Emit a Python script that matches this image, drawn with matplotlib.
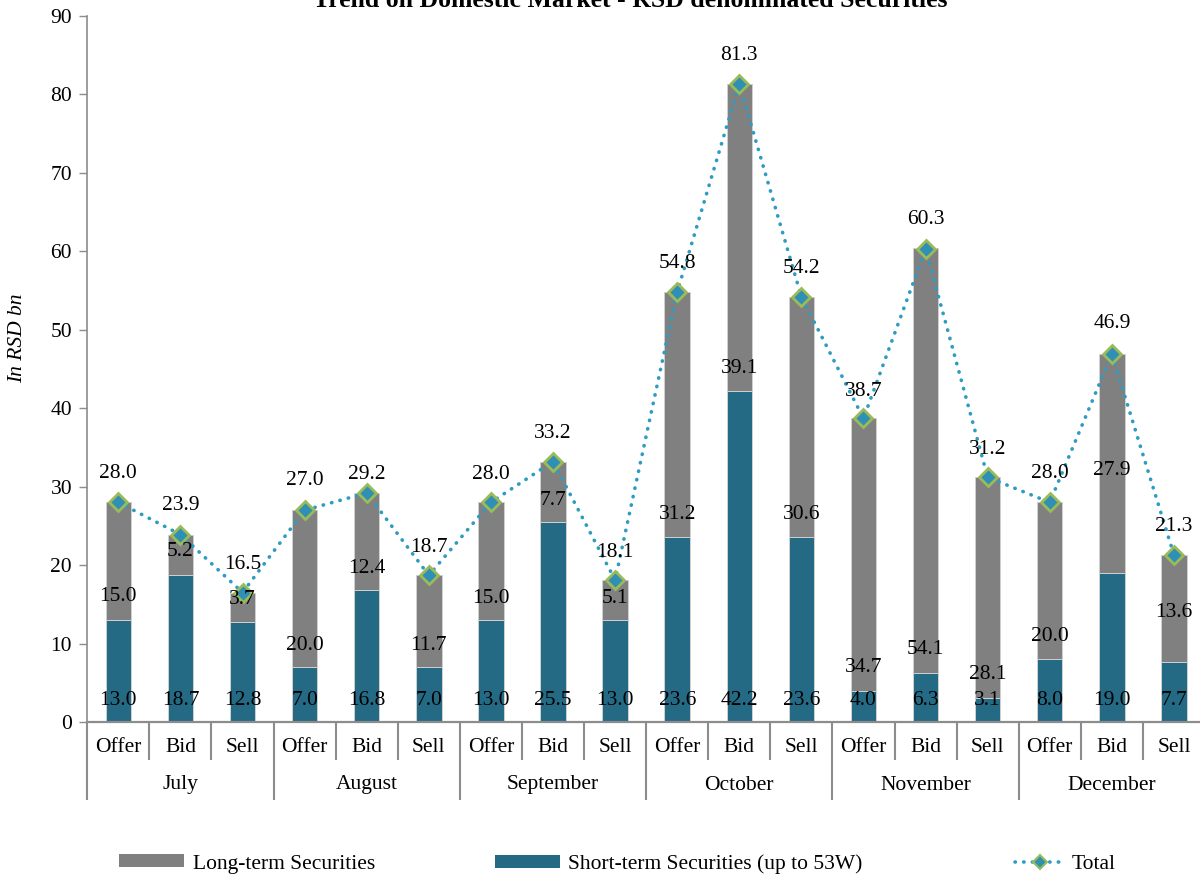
import matplotlib
matplotlib.use("Agg")
import matplotlib.pyplot as plt
from matplotlib.patches import Patch
from matplotlib.lines import Line2D
import numpy as np

plt.rcParams['font.family'] = ['Liberation Serif', 'DejaVu Serif']

# ---- data ----
months = ["July", "August", "September", "October", "November", "December"]
kinds = ["Offer", "Bid", "Sell"]
short_term = [13.0, 18.7, 12.8, 7.0, 16.8, 7.0, 13.0, 25.5, 13.0,
              23.6, 42.2, 23.6, 4.0, 6.3, 3.1, 8.0, 19.0, 7.7]
long_term = [15.0, 5.2, 3.7, 20.0, 12.4, 11.7, 15.0, 7.7, 5.1,
             31.2, 39.1, 30.6, 34.7, 54.1, 28.1, 20.0, 27.9, 13.6]
total = [28.0, 23.9, 16.5, 27.0, 29.2, 18.7, 28.0, 33.2, 18.1,
         54.8, 81.3, 54.2, 38.7, 60.3, 31.2, 28.0, 46.9, 21.3]

# ---- label layout (as placed in the original) ----
long_label_y = [16.0, 21.7, 15.6, 9.8, 19.6, 9.8, 15.8, 28.3, 15.8,
                26.4, 45.1, 26.4, 7.0, 9.3, 6.1, 10.9, 32.1, 13.9]
short_label_y = 2.8
total_label_dy = [29, 29, 28, 30, 18, 28, 28, 28, 28,
                  29, 29, 28, 27, 29, 28, 29, 31, 28]  # pixels above point

W, H = 1200, 876
fig = plt.figure(figsize=(W / 100, H / 100), dpi=100)
ax_left, ax_right = 87.3, 1205.0
ax_top, ax_bot = 16.0, 722.0
ax = fig.add_axes([ax_left / W, 1 - ax_bot / H, (ax_right - ax_left) / W, (ax_bot - ax_top) / H])

n = len(short_term)
x = np.arange(n)
teal = '#246A84'
grey = '#808080'
axis_grey = '#8C8C8C'
fs = 15.5

ax.bar(x, short_term, width=0.41, color=teal, edgecolor='#D0D0D0', linewidth=0.7, zorder=2)
ax.bar(x, long_term, width=0.41, bottom=short_term, color=grey, edgecolor='#D0D0D0', linewidth=0.7, zorder=2)
ax.plot(x, total, color='#2E9BC0', linewidth=2.6, linestyle=(0, (0.1, 2.3)),
        dash_capstyle='round', zorder=3)
ax.plot(x, total, linestyle='none', marker='D', markersize=9, markerfacecolor='#2F8FB4',
        markeredgecolor='#9BBB59', markeredgewidth=2, zorder=4)

ax.set_xlim(-0.5, n - 0.5)
ax.set_ylim(0, 90)
ax.set_yticks(np.arange(0, 91, 10))
ax.tick_params(axis='y', direction='out', length=6, width=1, color=axis_grey, pad=5, labelsize=fs)
ax.set_xticks([])
for s in ['top', 'right']:
    ax.spines[s].set_visible(False)
ax.spines['left'].set_color(axis_grey)
ax.spines['bottom'].set_color(axis_grey)
ax.spines['left'].set_linewidth(1.2)
ax.spines['bottom'].set_linewidth(1.6)

# data labels
for i in range(n):
    ax.text(x[i], short_label_y, f"{short_term[i]:.1f}", ha='center', va='center', fontsize=fs, zorder=5)
    ax.text(x[i], long_label_y[i], f"{long_term[i]:.1f}", ha='center', va='center', fontsize=fs, zorder=5)
    ax.annotate(f"{total[i]:.1f}", (x[i], total[i]), xytext=(0, total_label_dy[i] * 0.72),
                textcoords='offset points', ha='center', va='center', fontsize=fs, zorder=5)

# category axis (two levels)
trans = ax.get_xaxis_transform()
px = 1.0 / (ax_bot - ax_top)  # one pixel in axes-fraction units
for i in range(n):
    ax.text(x[i], -(747 - ax_bot) * px, kinds[i % 3], transform=trans, ha='center', va='center',
            fontsize=fs, clip_on=False)
for g, m in enumerate(months):
    ax.text(3 * g + 1, -(785 - ax_bot) * px, m, transform=trans, ha='center', va='center',
            fontsize=fs, clip_on=False)
for b in range(n + 1):
    xb = b - 0.5
    depth = 78 if b % 3 == 0 else 38
    ax.plot([xb, xb], [0, -depth * px], transform=trans, color=axis_grey, linewidth=1.5,
            clip_on=False, solid_capstyle='butt')

# title and y label
fig.text(630 / W, 1 - 7 / H, "Trend on Domestic Market - RSD denominated Securities",
         ha='center', va='baseline', fontsize=18.5, fontweight='bold')
fig.text(18 / W, 1 - 338 / H, "In RSD bn", rotation=90, ha='center', va='center',
         fontsize=fs, fontstyle='italic')

# legend (three entries spread along the bottom)
ly = 1 - 864 / H
l1 = fig.legend(handles=[Patch(facecolor=grey, edgecolor='none', label='Long-term Securities')],
                loc='center left', bbox_to_anchor=(119 / W, ly), frameon=False, fontsize=fs,
                borderpad=0, borderaxespad=0, handlelength=3.0, handleheight=0.55, handletextpad=0.45)
l2 = fig.legend(handles=[Patch(facecolor=teal, edgecolor='none', label='Short-term Securities (up to 53W)')],
                loc='center left', bbox_to_anchor=(495 / W, ly), frameon=False, fontsize=fs,
                borderpad=0, borderaxespad=0, handlelength=3.0, handleheight=0.55, handletextpad=0.4)
l3 = fig.legend(handles=[Line2D([0], [0], color='#2E9BC0', linewidth=2.6, linestyle=(0, (0.1, 2.3)),
                                dash_capstyle='round', marker='D', markersize=7,
                                markerfacecolor='#2F8FB4', markeredgecolor='#9BBB59',
                                markeredgewidth=1.5, label='Total')],
                loc='center left', bbox_to_anchor=(1015 / W, ly), frameon=False, fontsize=fs,
                borderpad=0, borderaxespad=0, handlelength=2.3, handletextpad=0.35)

fig.savefig('out.png', dpi=100)
